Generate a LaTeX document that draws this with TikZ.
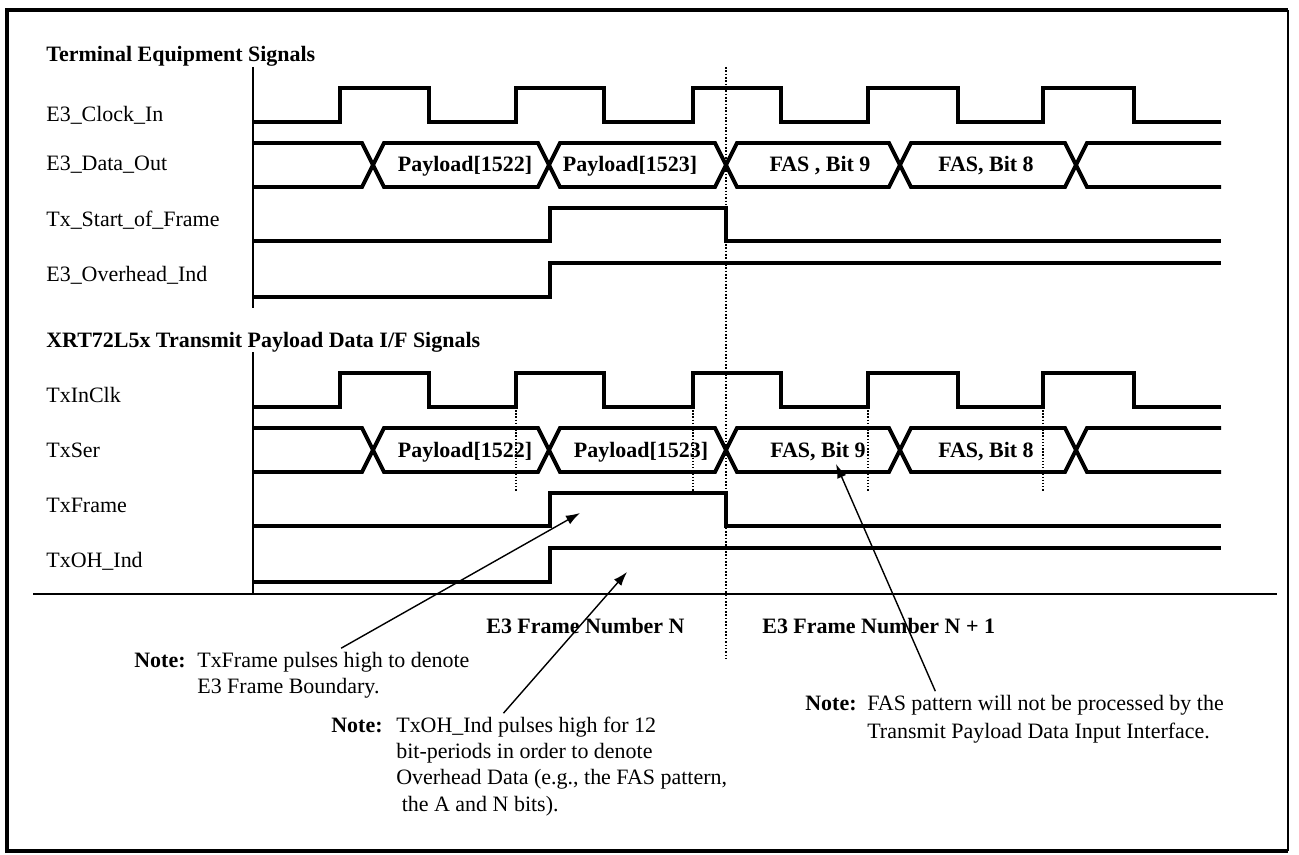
\documentclass[tikz,border=0pt]{standalone}
\usepackage{fontspec}
\setmainfont{Liberation Serif}
\usetikzlibrary{arrows.meta,calc}
\newcommand\figfont{\fontsize{12.5}{15}\selectfont}

\begin{document}
\begin{tikzpicture}[x=0.02cm,y=-0.02cm,font=\figfont,>={Latex[length=8pt,width=5.5pt]},
  sig/.style={line width=2.2pt,line join=miter},
  lbl/.style={anchor=base west,inner sep=0pt},
  hdr/.style={anchor=base west,inner sep=0pt,font=\figfont\bfseries},
  buslbl/.style={anchor=base,inner sep=0pt,font=\figfont\bfseries},
  note/.style={anchor=base west,inner sep=0pt},
  callout/.style={->,line width=0.8pt}]
\useasboundingbox (0,0) rectangle (1299,855);
% frame
\draw[line width=2.2pt] (1288,851) -- (7,851) -- (7,10) -- (1288,10);
\draw[line width=1.1pt] (1288,10) -- (1288,851);

% headings and signal names
\node[hdr] (tehdr) at (46,62) {Terminal Equipment Signals};
\node[lbl] (clkin) at (46,122) {E3\_Clock\_In};
\node[lbl] (dout) at (46,171) {E3\_Data\_Out};
\node[lbl] (sof) at (46,226) {Tx\_Start\_of\_Frame};
\node[lbl] (ohind) at (46,281) {E3\_Overhead\_Ind};
\node[hdr] (xrthdr) at (46,347) {XRT72L5x Transmit Payload Data I/F Signals};
\node[lbl] (txclk) at (46,402) {TxInClk};
\node[lbl] (txser) at (46,457) {TxSer};
\node[lbl] (txfr) at (46,512) {TxFrame};
\node[lbl] (txoh) at (46,567) {TxOH\_Ind};

% the two groups share the same waveforms
\foreach \dy in {0,285}{
  \begin{scope}[shift={(0,\dy)}]
    \draw[line width=0.85pt] (253,67) -- (253,308);
    \draw[sig] (253,122) -| (340,88) -| (429,122) -| (516,88) -| (604,122) -| (693,88)
      -| (781,122) -| (868,88) -| (958,122) -| (1043,88) -| (1134,122) -- (1221,122);
    \draw[sig] (253,143) -- (362,143) -- (384,187) -- (538,187) -- (560,143) -- (715,143)
      -- (737,187) -- (889,187) -- (911,143) -- (1065,143) -- (1087,187) -- (1221,187);
    \draw[sig] (253,187) -- (362,187) -- (384,143) -- (538,143) -- (560,187) -- (715,187)
      -- (737,143) -- (889,143) -- (911,187) -- (1065,187) -- (1087,143) -- (1221,143);
    \draw[sig] (253,241) -| (550,208) -| (726,241) -- (1221,241);
    \draw[sig] (253,297) -| (550,263) -- (1221,263);
  \end{scope}
}

% bus contents
\node[buslbl] (pa1) at (465,172) {Payload[1522]};
\node[buslbl] (pa2) at (630,172) {Payload[1523]};
\node[buslbl] (fa9) at (820,172) {FAS , Bit 9};
\node[buslbl] (fa8) at (986,172) {FAS, Bit 8};
\node[buslbl] (pb1) at (465,457) {Payload[1522]};
\node[buslbl] (pb2) at (641,457) {Payload[1523]};
\node[buslbl] (fb9) at (818,457) {FAS, Bit 9};
\node[buslbl] (fb8) at (986,457) {FAS, Bit 8};

% frame boundary and sampling edges
\draw[densely dotted,line width=0.9pt] (726,67) -- (726,658);
\foreach \x in {516,693,868,1043}
  \draw[densely dotted,line width=0.8pt] (\x,407) -- (\x,492);
\draw[line width=1pt] (33,594) -- (1277,594);

\node[hdr] (frn) at (486,633) {E3 Frame Number N};
\node[hdr] (frn1) at (762,633) {E3 Frame Number N + 1};

% notes
\node[note] (nfr) at (134,667) {\begin{tabular}[t]{@{}p{1.26cm}@{}l@{}}
  \textbf{Note:} & TxFrame pulses high to denote\\
  & E3 Frame Boundary.\end{tabular}};
\node[note] (noh) at (331,732) {\begin{tabular}[t]{@{}p{1.3cm}@{}l@{}}
  \textbf{Note:} & TxOH\_Ind pulses high for 12\\
  & bit-periods in order to denote\\
  & Overhead Data (e.g., the FAS pattern,\\
  & \ the A and N bits).\end{tabular}};
\node[note] (nfas) at (805,710) {\begin{tabular}[t]{@{}p{1.24cm}@{}l@{}}
  \textbf{Note:} & FAS pattern will not be processed by the\\[1pt]
  & Transmit Payload Data Input Interface.\end{tabular}};

\coordinate (frtip) at (580,513);
\coordinate (ohtip) at (627,572);
\coordinate (fastip) at (836,464);
\draw[callout] ($(nfr.north west)!0.617!(nfr.north east)$) -- (frtip);
\draw[callout] ($(noh.north west)!0.435!(noh.north east)$) -- (ohtip);
\draw[callout] ($(nfas.north west)!0.311!(nfas.north east)$) -- (fastip);
\end{tikzpicture}
\end{document}
